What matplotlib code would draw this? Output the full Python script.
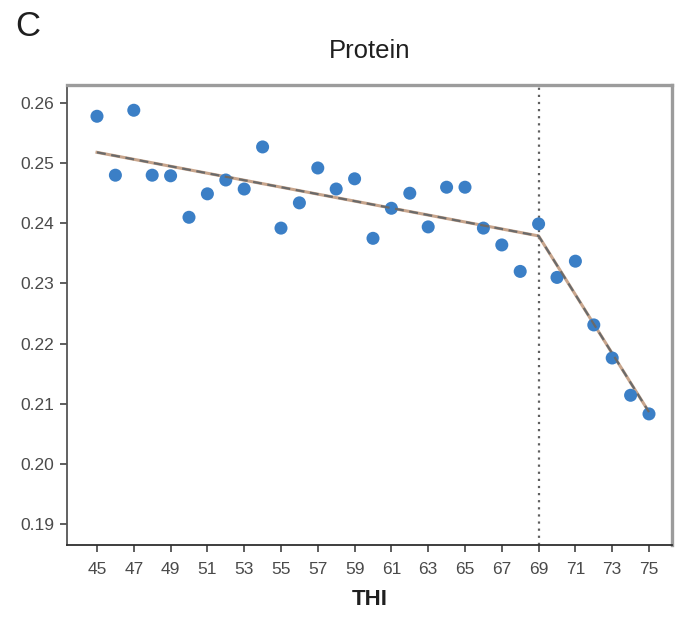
import matplotlib
matplotlib.use("Agg")
import matplotlib.pyplot as plt

plt.rcParams['font.family'] = ['Liberation Sans', 'DejaVu Sans']

# Temperature-humidity index and mean protein content
thi = [45, 46, 47, 48, 49, 50, 51, 52, 53, 54, 55, 56, 57, 58, 59, 60,
       61, 62, 63, 64, 65, 66, 67, 68, 69, 70, 71, 72, 73, 74, 75]
protein = [0.2578, 0.2480, 0.2588, 0.2480, 0.2479, 0.2410, 0.2449, 0.2472,
           0.2457, 0.2527, 0.2392, 0.2434, 0.2492, 0.2457, 0.2474, 0.2375,
           0.2425, 0.2450, 0.2394, 0.2460, 0.2460, 0.2392, 0.2364, 0.2320,
           0.2399, 0.2310, 0.2337, 0.2231, 0.2176, 0.2114, 0.2083]

# Segmented regression: nodes at start, breakpoint and end
breakpoint_thi = 69
fit_x = [45, 69, 75]
fit_y = [0.2518, 0.2379, 0.2086]

x_ticks = list(range(45, 76, 2))
y_ticks = [0.19, 0.20, 0.21, 0.22, 0.23, 0.24, 0.25, 0.26]

fig = plt.figure(figsize=(6.82, 6.20), dpi=100)
ax = fig.add_axes([67 / 682, 75 / 620, (672 - 67) / 682, (545 - 85) / 620])

ax.axvline(breakpoint_thi, color='#5f5f5f', lw=1.6, ls=(0, (1, 2.2)), zorder=1)
ax.scatter(thi, protein, s=88, color='#3b7fc6', edgecolors='none', zorder=3)
ax.plot(fit_x, fit_y, color='#c8a58c', lw=2.2, zorder=2)
ax.plot(fit_x, fit_y, color='#6a6a6a', lw=1.6, ls=(0, (4, 2.5)), zorder=4)

ax.set_xlim(43.37, 76.25)
ax.set_ylim(0.1865, 0.2630)
ax.set_xticks(x_ticks)
ax.set_xticklabels([str(v) for v in x_ticks])
ax.set_yticks(y_ticks)
ax.set_yticklabels([f"{v:.2f}" for v in y_ticks])

ax.tick_params(axis='both', labelsize=12.5, labelcolor='#4a4a4a', color='#333333',
               length=5, width=1.1)
ax.tick_params(axis='x', pad=7)
ax.tick_params(axis='y', pad=4)

ax.spines['left'].set_color('#555555')
ax.spines['left'].set_linewidth(1.3)
ax.spines['bottom'].set_color('#2f2f2f')
ax.spines['bottom'].set_linewidth(1.3)
for side in ('top', 'right'):
    ax.spines[side].set_color('#9c9c9c')
    ax.spines[side].set_linewidth(2.4)

ax.set_xlabel('THI', fontsize=16, fontweight='bold', color='#1f1f1f', labelpad=9)

fig.text(370 / 682, 1 - 51 / 620, 'Protein', ha='center', va='center',
         fontsize=18.5, color='#1f1f1f')
fig.text(28 / 682, 1 - 27 / 620, 'C', ha='center', va='center',
         fontsize=25, color='#1f1f1f')

fig.savefig('out.png', dpi=100, facecolor='white')
